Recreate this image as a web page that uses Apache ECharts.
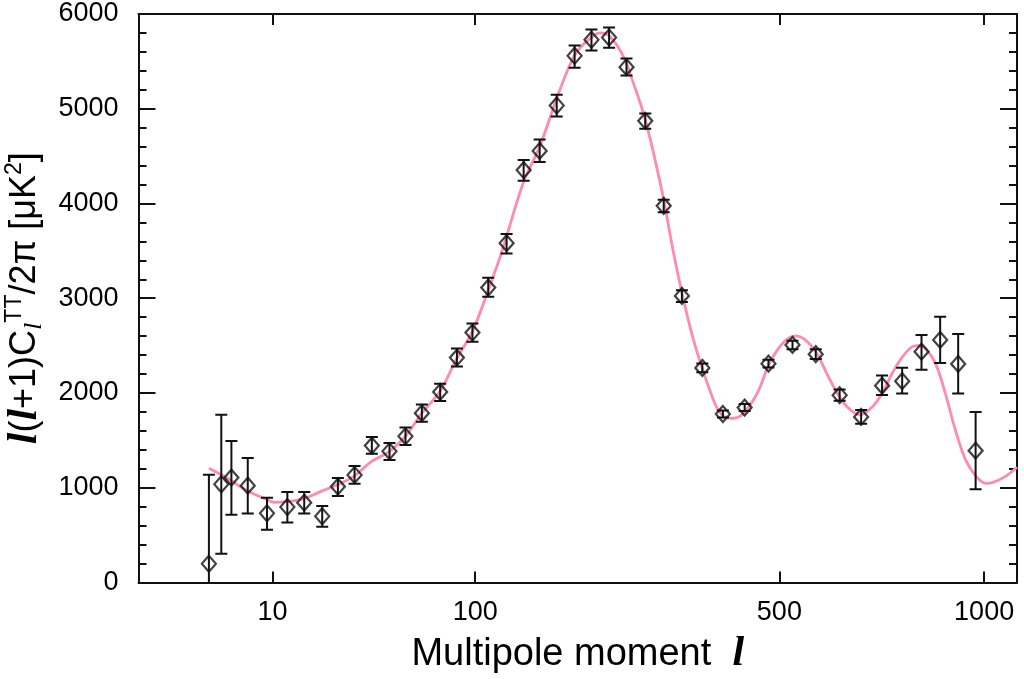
<!DOCTYPE html>
<html>
<head>
<meta charset="utf-8">
<script src="https://cdn.jsdelivr.net/npm/echarts@6/dist/echarts.min.js"></script>
<style>
html,body{margin:0;padding:0;background:#fff;}
#chart{width:1024px;height:679px;}
</style>
</head>
<body>
<div id="chart"></div>
<script>
// Binned multipole moments (l) of the measured points
const binL = [2,3,4,6,9,13,17,22,27,33,40,48,56,65,76,87,98,110,125,140,155,172,191,210,231,253,278,304,331,363,397,435,479,526,574,626,675,725,775,825,875,925,975];
// Measured l(l+1)C_l/2pi [uK^2]
const binValue = [197,1036,1106,1021,730,796,842,698,1011,1134,1444,1384,1543,1786,2011,2373,2637,3112,3581,4352,4555,5034,5559,5728,5752,5439,4872,3975,3024,2264,1778,1845,2309,2507,2409,1976,1747,2077,2124,2436,2560,2306,1391];
// Error bar upper / lower limits
const binUpper = [1137,1771,1493,1314,894,955,955,807,1102,1229,1535,1472,1634,1877,2098,2468,2732,3216,3679,4460,4675,5147,5667,5836,5857,5530,4949,4038,3085,2310,1815,1882,2350,2552,2460,2035,1820,2183,2267,2612,2803,2623,1799];
const binLower = [-743,303,715,726,557,631,726,588,912,1042,1359,1292,1451,1697,1916,2278,2539,3014,3471,4239,4439,4918,5432,5615,5643,5351,4788,3908,2961,2218,1740,1808,2268,2462,2358,1918,1676,1979,1993,2246,2317,1993,983];
// Model curve (pink)
const curveL = [2,3.9,5.7,8.5,10.3,12.8,16.7,21.4,26.6,32.5,39.8,48,56,65,76,87,98,111,121.5,139.5,155,171.5,185,195,211,220,232,249,262,275.5,289.5,304,318.5,333.5,347.5,362.6,375,389,403.5,415,433,458,481,506.5,532,552,574,601,623,646,672,702,725,750,776,801,818,835,862,889,917,946,977,1005,1024,1063,1100];
const curveValue = [1205,1081,976,888,846,852,881,958,1028,1116,1275,1384,1543,1786,2020,2366,2650,3122,3510,4214,4601,5094,5446,5622,5762,5800,5762,5551,5270,4953,4531,4038,3475,2982,2595,2264,2032,1820,1739,1733,1786,1997,2314,2525,2602,2560,2436,2172,1979,1838,1770,1855,1997,2208,2383,2489,2500,2472,2314,1997,1609,1293,1116,1046,1053,1116,1215];
// Axis ticks
const xTickLabels = [10,100,500,1000];
const yTickLabels = [0,1000,2000,3000,4000,5000,6000];
const lMax = 1100;

// x axis scale: l^0.4
const P = 0.4;
const tx = l => Math.pow(l, P);
const inv = v => Math.round(Math.pow(v, 1 / P));

const FONT = 'Liberation Sans';
const black = '#111';

const xCustom = xTickLabels.map(tx);

const baseX = {
  type: 'value', min: 0, max: tx(lMax),
  axisLine: {show: true, onZero: false, lineStyle: {color: black, width: 2}},
  splitLine: {show: false},
};
const baseY = {
  type: 'value', min: yTickLabels[0], max: yTickLabels[yTickLabels.length - 1], interval: 1000,
  axisLine: {show: true, onZero: false, lineStyle: {color: black, width: 2}},
  axisTick: {show: true, inside: true, length: 17, lineStyle: {color: black, width: 2}},
  minorTick: {show: true, splitNumber: 5, length: 8, lineStyle: {color: black, width: 2}},
  splitLine: {show: false}, minorSplitLine: {show: false},
};

const chart = echarts.init(document.getElementById('chart'), null, {renderer: 'canvas'});
chart.setOption({
  backgroundColor: '#fff',
  animation: false,
  grid: {left: 138.5, right: 7, top: 14, bottom: 96.6, containLabel: false, outerBoundsMode: 'none'},
  xAxis: [
    Object.assign({}, baseX, {
      position: 'bottom',
      axisTick: {show: true, inside: true, length: 11, customValues: xCustom, lineStyle: {color: black, width: 2}},
      axisLabel: {show: true, customValues: xCustom, formatter: v => String(inv(v)), fontFamily: FONT, fontSize: 27, color: '#000', margin: 17},
      name: '{a|Multipole moment  }{b|l}',
      nameLocation: 'middle', nameGap: 51,
      nameTextStyle: {
        rich: {
          a: {fontFamily: FONT, fontSize: 38, color: '#000'},
          b: {fontFamily: 'Liberation Serif', fontStyle: 'italic', fontWeight: 'bold', fontSize: 42, color: '#000'}
        }
      }
    }),
    Object.assign({}, baseX, {
      position: 'top',
      axisTick: {show: true, inside: true, length: 11, customValues: xCustom, lineStyle: {color: black, width: 2}},
      axisLabel: {show: false}
    })
  ],
  yAxis: [
    Object.assign({}, baseY, {
      position: 'left',
      axisLabel: {show: true, formatter: v => String(v), fontFamily: FONT, fontSize: 27, color: '#000', margin: 20},
      name: '{l|l}{n|(}{l|l}{n|+1)C}{sub|l}{sup|TT}{n|/2π [μK}{sup|2}{n|]}',
      nameLocation: 'middle', nameRotate: 90, nameGap: 80,
      nameTextStyle: {
        rich: {
          n: {fontFamily: FONT, fontSize: 36, color: '#000', lineHeight: 44, verticalAlign: 'middle'},
          l: {fontFamily: 'Liberation Serif', fontStyle: 'italic', fontWeight: 'bold', fontSize: 42, color: '#000', lineHeight: 44, verticalAlign: 'middle'},
          sub: {fontFamily: 'Liberation Serif', fontStyle: 'italic', fontSize: 26, color: '#000', lineHeight: 44, verticalAlign: 'bottom'},
          sup: {fontFamily: FONT, fontSize: 23, color: '#000', lineHeight: 44, verticalAlign: 'top'}
        }
      }
    }),
    Object.assign({}, baseY, {
      position: 'right',
      axisLabel: {show: false}
    })
  ],
  series: [
    {
      type: 'line', name: 'model',
      data: curveL.map((l, i) => [tx(l), curveValue[i]]),
      smooth: 0.35, showSymbol: false, symbol: 'none',
      lineStyle: {color: '#ff8ab4', width: 2.8},
      clip: true, z: 1
    },
    {
      type: 'custom', name: 'errors',
      clip: true, z: 3,
      data: binL.map((l, i) => [tx(l), binUpper[i], binLower[i]]),
      encode: {x: 0, y: [1, 2]},
      renderItem: function (params, api) {
        const x = api.value(0);
        const hi = api.coord([x, api.value(1)]);
        const lo = api.coord([x, api.value(2)]);
        const w = 6;
        const st = {stroke: black, lineWidth: 2};
        return {
          type: 'group',
          children: [
            {type: 'line', shape: {x1: hi[0], y1: hi[1], x2: lo[0], y2: lo[1]}, style: st},
            {type: 'line', shape: {x1: hi[0] - w, y1: hi[1], x2: hi[0] + w, y2: hi[1]}, style: st},
            {type: 'line', shape: {x1: lo[0] - w, y1: lo[1], x2: lo[0] + w, y2: lo[1]}, style: st}
          ]
        };
      }
    },
    {
      type: 'scatter', name: 'data',
      data: binL.map((l, i) => [tx(l), binValue[i]]),
      symbol: 'diamond', symbolSize: [14, 16],
      itemStyle: {color: 'rgba(0,0,0,0)', borderColor: black, borderWidth: 2.2},
      z: 4
    }
  ]
});
</script>
</body>
</html>
